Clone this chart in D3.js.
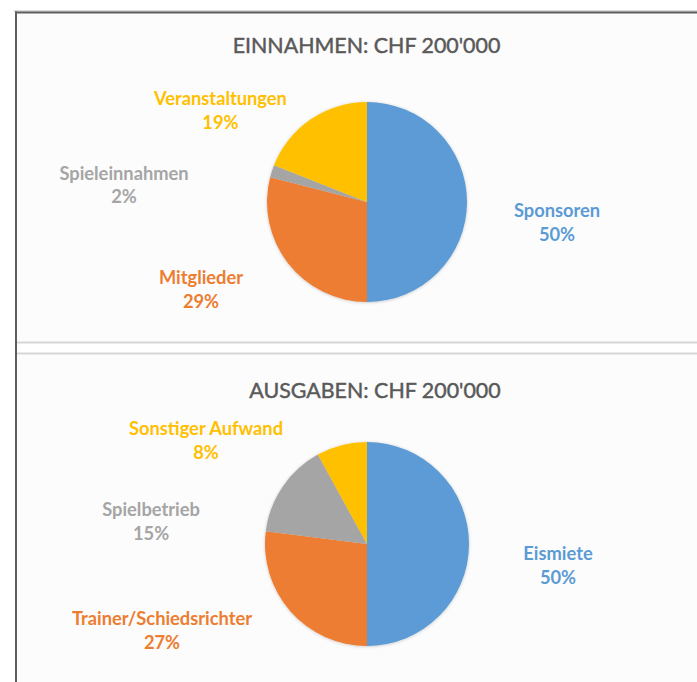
<!DOCTYPE html>
<html>
<head>
<meta charset="utf-8">
<script src="https://cdn.jsdelivr.net/npm/d3@7"></script>
<style>
  body { margin: 0; background: #fff; }
  text { font-family: Lato, "Open Sans", sans-serif; }
</style>
</head>
<body>
<svg id="chart" width="697" height="682"></svg>
<script>
// chart data
const einTitle = "EINNAHMEN: CHF 200'000"
const einCategories = ["Sponsoren", "Mitglieder", "Spieleinnahmen", "Veranstaltungen"]
const einValues = [50, 29, 2, 19]

const ausTitle = "AUSGABEN: CHF 200'000"
const ausCategories = ["Eismiete", "Trainer/Schiedsrichter", "Spielbetrieb", "Sonstiger Aufwand"]
const ausValues = [50, 27, 15, 8]

const colors = ["#5b9bd5", "#ed7d31", "#a5a5a5", "#ffc000"]

// layout (label nudges relative to the outer label arc centroid)
const panels = [
  { top: 13, bottom: 342, title: einTitle, cats: einCategories, vals: einValues,
    cx: 367, cy: 202, r: 100, titleX: 366.5, titleY: 53,
    nudges: [[30, 20.5], [-39.6, -10.1], [-90.8, 32.9], [-56.6, 41.3]] },
  { top: 353, bottom: 682, title: ausTitle, cats: ausCategories, vals: ausValues,
    cx: 367, cy: 544, r: 102, titleX: 375, titleY: 398,
    nudges: [[27.8, 21.5], [-82.6, -21.4], [-81, 69.7], [-120.4, 54.6]] }
]

const svg = d3.select("#chart")
const width = 697, height = 682

const defs = svg.append("defs")
defs.append("filter").attr("id", "shadow")
  .attr("x", "-20%").attr("y", "-20%").attr("width", "140%").attr("height", "140%")
  .append("feDropShadow")
  .attr("dx", 0).attr("dy", 0.5)
  .attr("stdDeviation", 1.5)
  .attr("flood-color", "#000")
  .attr("flood-opacity", 0.22)

// panels background and separators
panels.forEach(p => {
  svg.append("rect")
    .attr("x", 17).attr("y", p.top)
    .attr("width", width - 17).attr("height", p.bottom - p.top)
    .attr("fill", "#fcfcfc")
})
svg.append("line")
  .attr("x1", 17).attr("x2", width).attr("y1", 342.5).attr("y2", 342.5)
  .attr("stroke", "#d6d6d6").attr("stroke-width", 2)
svg.append("line")
  .attr("x1", 17).attr("x2", width).attr("y1", 353.5).attr("y2", 353.5)
  .attr("stroke", "#d6d6d6").attr("stroke-width", 2)

// outer frame (top + left)
svg.append("line")
  .attr("x1", 14).attr("x2", width).attr("y1", 11).attr("y2", 11)
  .attr("stroke", "#b5b5b5").attr("stroke-width", 1)
svg.append("line")
  .attr("x1", 15).attr("x2", width).attr("y1", 12.5).attr("y2", 12.5)
  .attr("stroke", "#5e5e5e").attr("stroke-width", 2)
svg.append("line")
  .attr("x1", 16).attr("x2", 16).attr("y1", 11.5).attr("y2", height)
  .attr("stroke", "#5e5e5e").attr("stroke-width", 2)

function drawPie(p) {
  const pie = d3.pie().sort(null).value(d => d)
  const arcs = pie(p.vals)
  const arc = d3.arc().innerRadius(0).outerRadius(p.r)
  const labelR = p.r * 1.6
  const labelArc = d3.arc().innerRadius(labelR).outerRadius(labelR)
  const total = d3.sum(p.vals)

  const g = svg.append("g").attr("transform", `translate(${p.cx},${p.cy})`)

  g.append("g").attr("filter", "url(#shadow)")
    .selectAll("path")
    .data(arcs)
    .join("path")
    .attr("d", arc)
    .attr("fill", (d, i) => colors[i])

  const labels = g.selectAll("text.lbl")
    .data(arcs)
    .join("text")
    .attr("class", "lbl")
    .attr("text-anchor", "middle")
    .attr("font-size", 18.3)
    .attr("font-weight", 700)
    .attr("fill", (d, i) => colors[i])
    .attr("transform", (d, i) => {
      const c = labelArc.centroid(d)
      return `translate(${c[0] + p.nudges[i][0]},${c[1] + p.nudges[i][1]})`
    })
  labels.append("tspan").attr("x", 0).attr("y", -5.5).text((d, i) => p.cats[i])
  labels.append("tspan").attr("x", 0).attr("y", 18).text(d => d3.format(".0%")(d.data / total))

  svg.append("text")
    .attr("x", p.titleX).attr("y", p.titleY)
    .attr("text-anchor", "middle")
    .attr("font-size", 21.4)
    .attr("fill", "#595959")
    .attr("stroke", "#595959")
    .attr("stroke-width", 0.45)
    .text(p.title)
}

panels.forEach(drawPie)
</script>
</body>
</html>
